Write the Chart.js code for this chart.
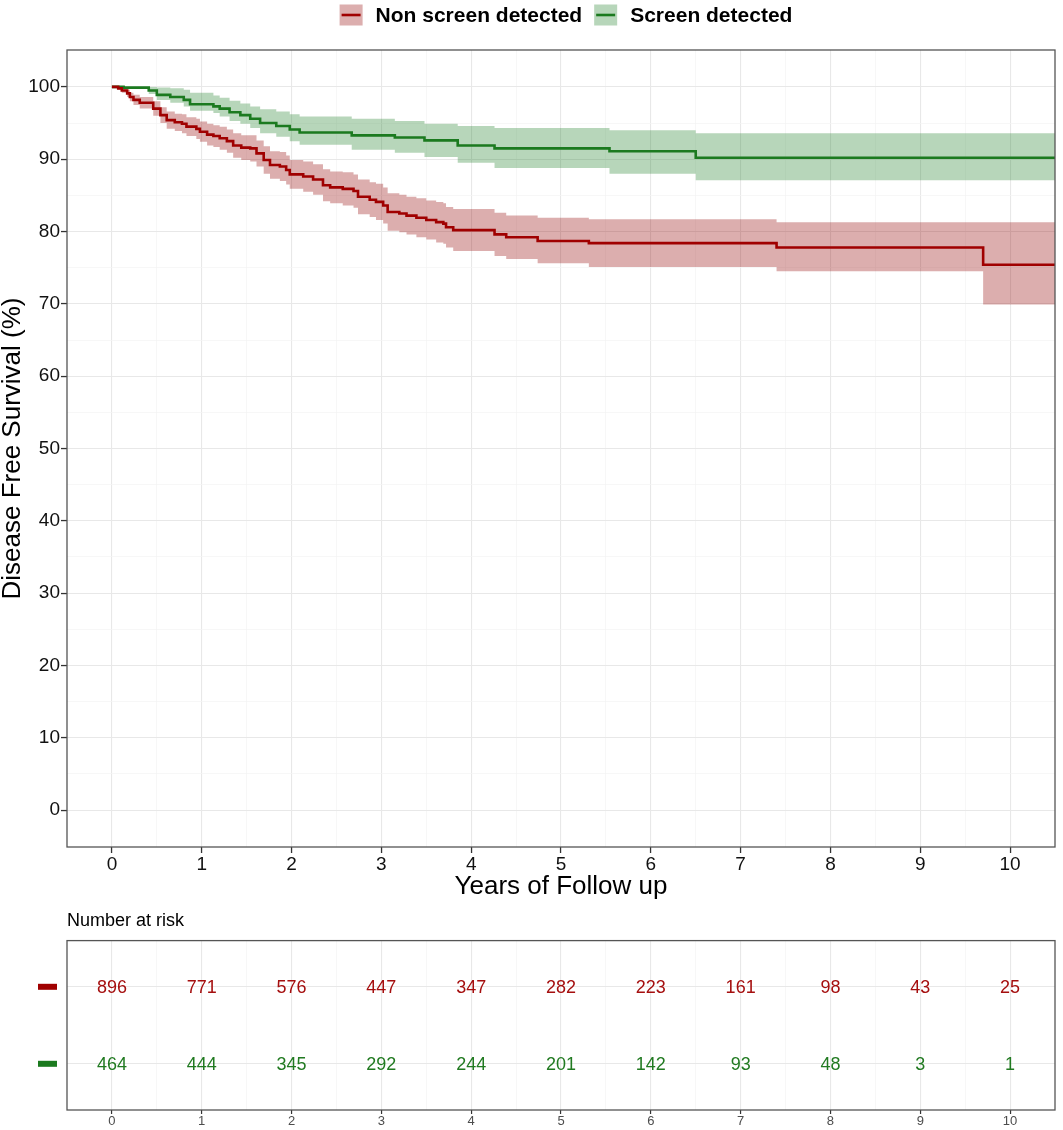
<!DOCTYPE html>
<html>
<head>
<meta charset="utf-8">
<title>Disease Free Survival</title>
<script src="https://cdn.jsdelivr.net/npm/chart.js@4"></script>
<style>
  body { margin: 0; background: #fff; }
  #main { position: absolute; left: 0; top: 0; width: 1063px; height: 905px; }
  #risk { position: absolute; left: 0; top: 905px; width: 1063px; height: 225px; }
</style>
</head>
<body>
<div id="main"><canvas id="kmChart"></canvas></div>
<div id="risk"><canvas id="riskChart"></canvas></div>
<script>
const groups = ['Non screen detected', 'Screen detected'];
const lineColors = ['#a00000', '#1b7a1f'];
const bandColors = ['rgba(150,10,10,0.33)', 'rgba(37,130,46,0.33)'];
const textColors = ['#a50f0f', '#217a21'];

// Kaplan-Meier curve (years, %)
const timeNonScreen = [0, 0.07, 0.11, 0.17, 0.20, 0.24, 0.31, 0.46, 0.54, 0.61,
  0.70, 0.78, 0.83, 0.94, 0.98, 1.06, 1.13, 1.20, 1.28, 1.35,
  1.44, 1.54, 1.61, 1.69, 1.76, 1.87, 1.94, 1.98, 2.13, 2.24,
  2.35, 2.43, 2.57, 2.69, 2.74, 2.87, 2.94, 3.02, 3.07, 3.20,
  3.28, 3.39, 3.50, 3.61, 3.69, 3.72, 3.80, 4.26, 4.39, 4.74,
  5.31, 7.40, 9.70, 10.5];
const survNonScreen = [100, 99.8, 99.5, 99.1, 98.6, 98.2, 97.8, 97.0, 96.1, 95.4,
  95.1, 94.9, 94.5, 94.2, 93.8, 93.4, 93.2, 92.9, 92.5, 91.9,
  91.6, 91.5, 90.8, 89.9, 89.2, 89.0, 88.5, 87.9, 87.6, 87.2,
  86.4, 86.1, 85.9, 85.6, 84.8, 84.4, 84.1, 83.6, 82.7, 82.5,
  82.2, 81.9, 81.6, 81.3, 81.1, 80.6, 80.2, 79.6, 79.2, 78.7,
  78.4, 77.8, 75.4, 75.4];
const upperNonScreen = [100, 100, 99.8, 99.6, 99.2, 98.9, 98.6, 98.0, 97.2, 96.6,
  96.3, 96.2, 95.8, 95.6, 95.2, 94.9, 94.7, 94.5, 94.1, 93.6,
  93.3, 93.3, 92.6, 91.8, 91.1, 91.0, 90.5, 89.9, 89.7, 89.3,
  88.6, 88.3, 88.2, 87.9, 87.2, 86.8, 86.6, 86.1, 85.3, 85.1,
  84.8, 84.6, 84.3, 84.1, 83.9, 83.4, 83.1, 82.6, 82.2, 81.9,
  81.7, 81.3, 81.3, 81.3];
const lowerNonScreen = [100, 99.6, 99.2, 98.6, 98.0, 97.5, 97.0, 96.0, 95.0, 94.2,
  93.9, 93.6, 93.2, 92.8, 92.4, 91.9, 91.7, 91.3, 90.9, 90.2,
  89.9, 89.7, 89.0, 88.0, 87.3, 87.0, 86.5, 85.9, 85.5, 85.1,
  84.2, 83.9, 83.6, 83.3, 82.4, 82.0, 81.6, 81.1, 80.1, 79.9,
  79.6, 79.2, 78.9, 78.5, 78.3, 77.8, 77.3, 76.6, 76.2, 75.6,
  75.1, 74.5, 69.9, 69.9];

const timeScreen = [0, 0.13, 0.41, 0.50, 0.65, 0.80, 0.87, 1.13, 1.20, 1.31,
  1.43, 1.54, 1.65, 1.83, 1.98, 2.09, 2.67, 3.15, 3.48, 3.85,
  4.26, 5.54, 6.50, 10.5];
const survScreen = [100, 99.9, 99.5, 98.9, 98.6, 98.2, 97.6, 97.3, 97.0, 96.5,
  96.1, 95.6, 95.0, 94.6, 94.1, 93.7, 93.3, 93.0, 92.6, 91.9,
  91.5, 91.1, 90.2, 90.2];
const upperScreen = [100, 100, 100, 99.9, 99.8, 99.6, 99.2, 98.8, 98.5, 98.1,
  97.7, 97.3, 96.9, 96.6, 96.2, 95.9, 95.6, 95.3, 94.9, 94.6,
  94.3, 94.0, 93.6, 93.6];
const lowerScreen = [100, 99.7, 99.0, 98.2, 97.8, 97.3, 96.7, 96.4, 95.9, 95.3,
  94.9, 94.3, 93.6, 93.1, 92.5, 92.0, 91.3, 90.9, 90.3, 89.5,
  88.8, 88.0, 87.1, 87.1];

// axis ticks
const xTicks = [0, 1, 2, 3, 4, 5, 6, 7, 8, 9, 10];
const xMinorTicks = [0.5, 1.5, 2.5, 3.5, 4.5, 5.5, 6.5, 7.5, 8.5, 9.5];
const yTicks = [0, 10, 20, 30, 40, 50, 60, 70, 80, 90, 100];
const yMinorTicks = [5, 15, 25, 35, 45, 55, 65, 75, 85, 95];

// number at risk table
const riskTimes = [0, 1, 2, 3, 4, 5, 6, 7, 8, 9, 10];
const riskNonScreen = [896, 771, 576, 447, 347, 282, 223, 161, 98, 43, 25];
const riskScreen = [464, 444, 345, 292, 244, 201, 142, 93, 48, 3, 1];
const riskRows = [2, 1];

const FONT = '"Liberation Sans", Arial, Helvetica, sans-serif';

function pts(t, v) {
  return t.map((x, i) => ({ x: x, y: v[i] }));
}
function tickList(major, minor) {
  return major.concat(minor).sort((a, b) => a - b).map(v => ({ value: v }));
}
function isMajor(list, v) {
  return list.indexOf(v) !== -1;
}

function bandSets(upper, lower, t, idx) {
  return [
    { label: 'upper' + idx, data: pts(t, upper), stepped: true, borderColor: 'transparent',
      pointRadius: 0, fill: false, order: 2 },
    { label: 'lower' + idx, data: pts(t, lower), stepped: true, borderColor: 'transparent',
      pointRadius: 0, fill: '-1', backgroundColor: bandColors[idx], order: 2 }
  ];
}
function curveSet(surv, t, idx) {
  return { label: groups[idx], data: pts(t, surv), stepped: true, borderColor: lineColors[idx],
    borderWidth: 2.6, pointRadius: 0, fill: false, order: 1 };
}

const panelPlugin = {
  id: 'panel',
  afterDraw(chart, args, opts) {
    const ctx = chart.ctx;
    const a = chart.chartArea;
    ctx.save();
    ctx.strokeStyle = '#555';
    ctx.lineWidth = 1.3;
    ctx.strokeRect(a.left, a.top, a.right - a.left, a.bottom - a.top);
    if (opts.legend) {
      ctx.font = 'bold 21px ' + FONT;
      ctx.textBaseline = 'middle';
      const keyW = 23, keyH = 21, gap = 13, itemGap = 12;
      const widths = groups.map(g => ctx.measureText(g).width);
      let total = 0;
      widths.forEach((w, i) => { total += keyW + gap + w + (i ? itemGap : 0); });
      let x = 566 - total / 2;
      const cy = 15;
      groups.forEach((g, i) => {
        ctx.fillStyle = bandColors[i];
        ctx.fillRect(x, cy - keyH / 2, keyW, keyH);
        ctx.strokeStyle = lineColors[i];
        ctx.lineWidth = 2.6;
        ctx.beginPath();
        ctx.moveTo(x + 2, cy);
        ctx.lineTo(x + keyW - 2, cy);
        ctx.stroke();
        ctx.fillStyle = '#000';
        ctx.textAlign = 'left';
        ctx.fillText(g, x + keyW + gap, cy + 1);
        x += keyW + gap + widths[i] + itemGap;
      });
    }
    ctx.restore();
  }
};

const kmChart = new Chart(document.getElementById('kmChart'), {
  type: 'line',
  data: {
    datasets: [
      curveSet(survNonScreen, timeNonScreen, 0),
      curveSet(survScreen, timeScreen, 1),
      ...bandSets(upperNonScreen, lowerNonScreen, timeNonScreen, 0),
      ...bandSets(upperScreen, lowerScreen, timeScreen, 1)
    ]
  },
  options: {
    responsive: true,
    maintainAspectRatio: false,
    animation: false,
    events: [],
    layout: { padding: { top: 50, right: 8, left: 0, bottom: 0 } },
    plugins: { legend: { display: false }, tooltip: { enabled: false }, panel: { legend: true } },
    scales: {
      x: {
        type: 'linear', min: -0.5, max: 10.5,
        afterBuildTicks: s => { s.ticks = tickList(xTicks, xMinorTicks); },
        afterFit: s => { s.height = 58; },
        ticks: {
          autoSkip: false, maxRotation: 0, padding: 0, color: '#111',
          font: { family: FONT, size: 19 },
          callback: v => isMajor(xTicks, v) ? String(v) : ''
        },
        grid: {
          color: c => isMajor(xTicks, c.tick.value) ? '#e8e8e8' : '#f3f3f3',
          lineWidth: c => isMajor(xTicks, c.tick.value) ? 1.1 : 0.7,
          tickColor: c => isMajor(xTicks, c.tick.value) ? '#333' : 'transparent',
          tickLength: 6, tickWidth: 1.3
        },
        border: { display: false },
        title: { display: true, text: 'Years of Follow up', color: '#000',
          font: { family: FONT, size: 26 }, padding: { top: 0, bottom: 3 } }
      },
      y: {
        type: 'linear', min: -5.1, max: 105.1,
        afterBuildTicks: s => { s.ticks = tickList(yTicks, yMinorTicks); },
        afterFit: s => { s.width = 67; },
        ticks: {
          autoSkip: false, padding: 1, color: '#111',
          font: { family: FONT, size: 19 },
          callback: v => isMajor(yTicks, v) ? String(v) : ''
        },
        grid: {
          color: c => isMajor(yTicks, c.tick.value) ? '#e8e8e8' : '#f3f3f3',
          lineWidth: c => isMajor(yTicks, c.tick.value) ? 1.1 : 0.7,
          tickColor: c => isMajor(yTicks, c.tick.value) ? '#333' : 'transparent',
          tickLength: 6, tickWidth: 1.3
        },
        border: { display: false },
        title: { display: true, text: 'Disease Free Survival (%)', color: '#000',
          font: { family: FONT, size: 26, lineHeight: 1 }, padding: 0 }
      }
    }
  },
  plugins: [panelPlugin]
});

const riskPlugin = {
  id: 'riskLabels',
  afterDatasetsDraw(chart) {
    const ctx = chart.ctx;
    const yScale = chart.scales.y;
    ctx.save();
    ctx.font = '18px ' + FONT;
    ctx.textAlign = 'center';
    ctx.textBaseline = 'middle';
    chart.data.datasets.forEach((ds, i) => {
      const meta = chart.getDatasetMeta(i);
      ctx.fillStyle = textColors[i];
      meta.data.forEach((pt, j) => {
        ctx.fillText(String(ds.counts[j]), pt.x, pt.y + 1);
      });
      const ry = yScale.getPixelForValue(riskRows[i]);
      ctx.fillStyle = lineColors[i];
      ctx.fillRect(38, ry - 3, 19, 6);
    });
    ctx.restore();
  }
};

const riskChart = new Chart(document.getElementById('riskChart'), {
  type: 'line',
  data: {
    datasets: [
      { label: groups[0], counts: riskNonScreen, data: riskTimes.map(t => ({ x: t, y: riskRows[0] })),
        showLine: false, pointRadius: 0 },
      { label: groups[1], counts: riskScreen, data: riskTimes.map(t => ({ x: t, y: riskRows[1] })),
        showLine: false, pointRadius: 0 }
    ]
  },
  options: {
    responsive: true,
    maintainAspectRatio: false,
    animation: false,
    events: [],
    layout: { padding: { top: 0, right: 8, left: 0, bottom: 0 } },
    plugins: {
      legend: { display: false }, tooltip: { enabled: false },
      title: { display: true, text: 'Number at risk', align: 'start', fullSize: false, color: '#000',
        font: { family: FONT, size: 18, weight: 'normal' }, padding: { top: 5, bottom: 9 } },
      panel: { legend: false }
    },
    scales: {
      x: {
        type: 'linear', min: -0.5, max: 10.5,
        afterBuildTicks: s => { s.ticks = tickList(xTicks, xMinorTicks); },
        afterFit: s => { s.height = 20; },
        ticks: {
          autoSkip: false, maxRotation: 0, padding: 0, color: '#4d4d4d',
          font: { family: FONT, size: 13 },
          callback: v => isMajor(xTicks, v) ? String(v) : ''
        },
        grid: {
          color: c => isMajor(xTicks, c.tick.value) ? '#e8e8e8' : '#f3f3f3',
          lineWidth: c => isMajor(xTicks, c.tick.value) ? 1.1 : 0.7,
          tickColor: c => isMajor(xTicks, c.tick.value) ? '#333' : 'transparent',
          tickLength: 4, tickWidth: 1.2
        },
        border: { display: false }
      },
      y: {
        type: 'linear', min: 0.4, max: 2.6,
        afterBuildTicks: s => { s.ticks = riskRows.map(v => ({ value: v })); },
        afterFit: s => { s.width = 67; },
        ticks: { callback: () => '' },
        grid: { color: '#e8e8e8', lineWidth: 1.1, drawTicks: false },
        border: { display: false }
      }
    }
  },
  plugins: [panelPlugin, riskPlugin]
});
</script>
</body>
</html>
